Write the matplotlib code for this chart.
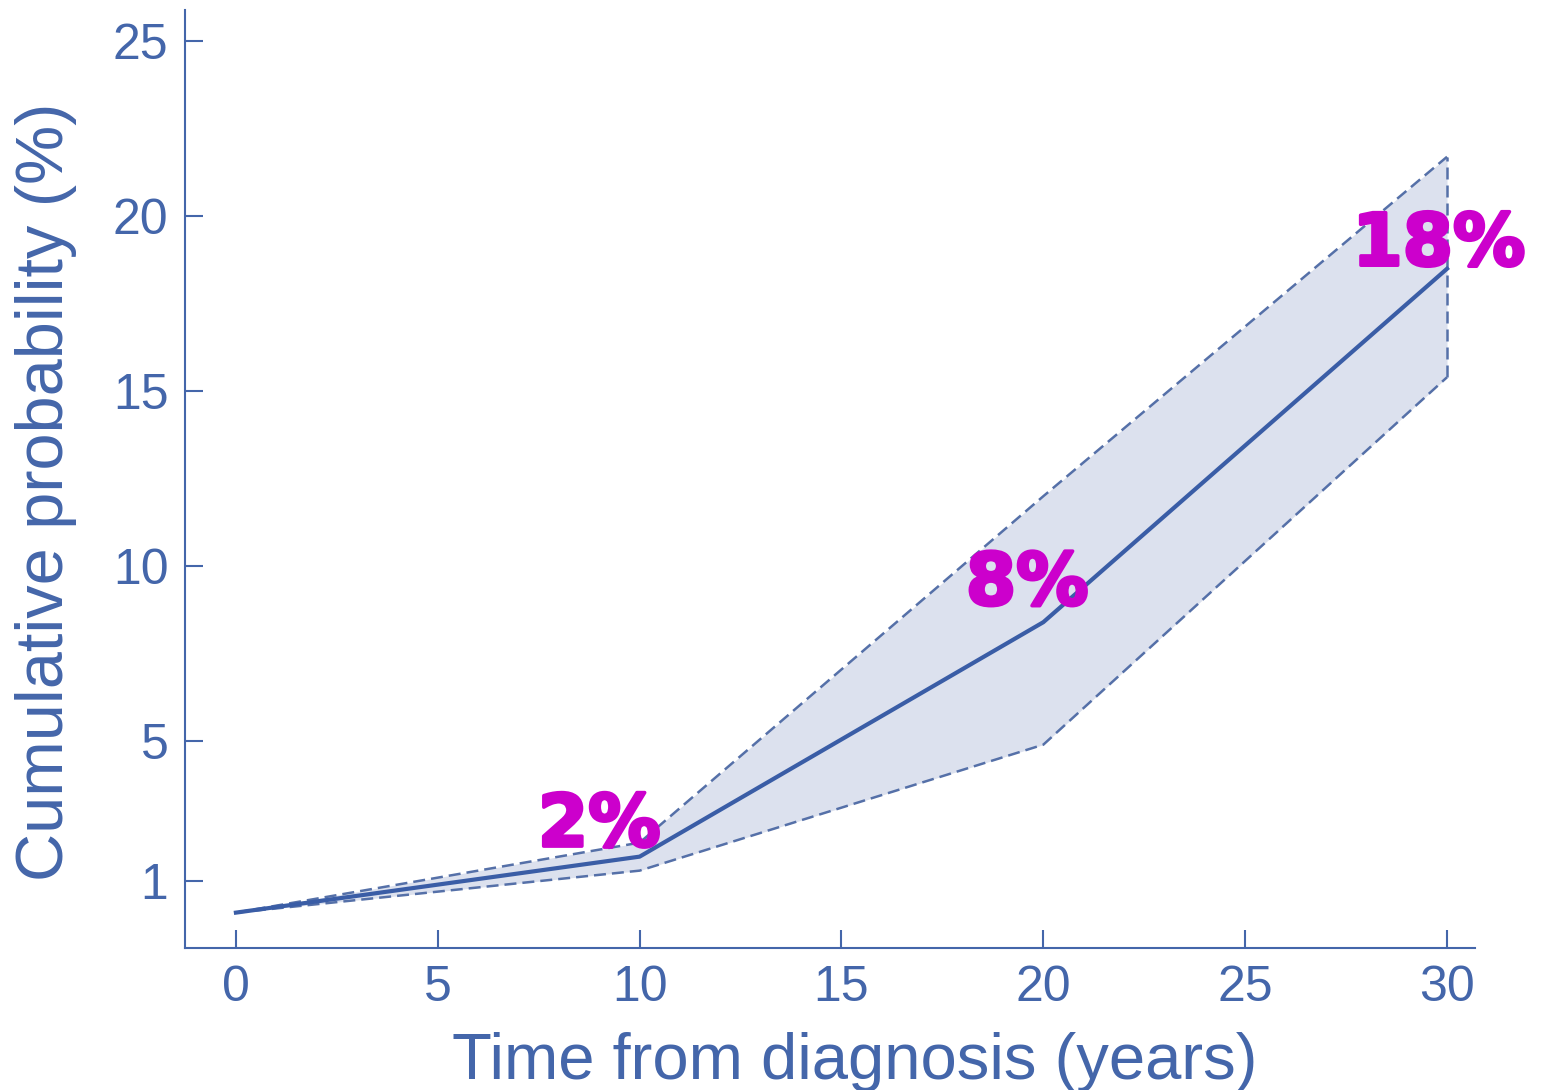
import numpy as np
import matplotlib.pyplot as plt
import matplotlib.patheffects as pe

years = [0, 10, 20, 30]
prob = [0.1, 1.7, 8.4, 18.5]
upper = [0.1, 2.1, 12.0, 21.7]
lower = [0.1, 1.3, 4.9, 15.4]

labels = ['2%', '8%', '18%']
label_x = [9.0, 19.6, 29.8]
label_y = [2.0, 8.9, 18.6]

xticks = [0, 5, 10, 15, 20, 25, 30]
yticks = [1, 5, 10, 15, 20, 25]

blue = '#4466aa'
line_blue = '#3a5da6'
fill = '#dce1ee'
magenta = '#cc00cc'

plt.rcParams['font.family'] = ['Liberation Sans', 'DejaVu Sans']

fig = plt.figure(figsize=(15.46, 10.90), dpi=100)
ax = fig.add_axes([0.1197, 0.1303, 0.954 - 0.1197, 0.991 - 0.1303])

# confidence band
ax.fill_between(years, lower, upper, color=fill, lw=0)
ax.plot(years, upper, '--', color='#5570a8', lw=1.8, dashes=(4.8, 2.4))
ax.plot(years, lower, '--', color='#5570a8', lw=1.8, dashes=(4.8, 2.4))
ax.plot([years[-1], years[-1]], [lower[-1], upper[-1]], '--', color='#5570a8', lw=1.8, dashes=(4.8, 2.4))
ax.plot(years, prob, color=line_blue, lw=3)

for s, x, y in zip(labels, label_x, label_y):
    ax.text(x, y, s, color=magenta, fontsize=52, fontweight='bold',
            family='DejaVu Sans', ha='center', va='baseline',
            path_effects=[pe.withStroke(linewidth=2.5, foreground=magenta)])

ax.set_xlim(-1.26, 30.69)
ax.set_ylim(-0.91, 25.9)
ax.set_xticks(xticks)
ax.set_yticks(yticks)

for side in ['top', 'right']:
    ax.spines[side].set_visible(False)
for side in ['left', 'bottom']:
    ax.spines[side].set_color(blue)
    ax.spines[side].set_linewidth(1.5)

ax.tick_params(direction='in', length=13, width=1.5, color=blue,
               labelcolor=blue, labelsize=36, pad=12)

ax.set_xlabel('Time from diagnosis (years)', fontsize=47, color=blue)
ax.set_ylabel('Cumulative probability (%)', fontsize=48, color=blue)
ax.xaxis.set_label_coords(0.519, -0.09)
ax.yaxis.set_label_coords(-0.084, 0.486)

fig.savefig('out.png', dpi=100)
